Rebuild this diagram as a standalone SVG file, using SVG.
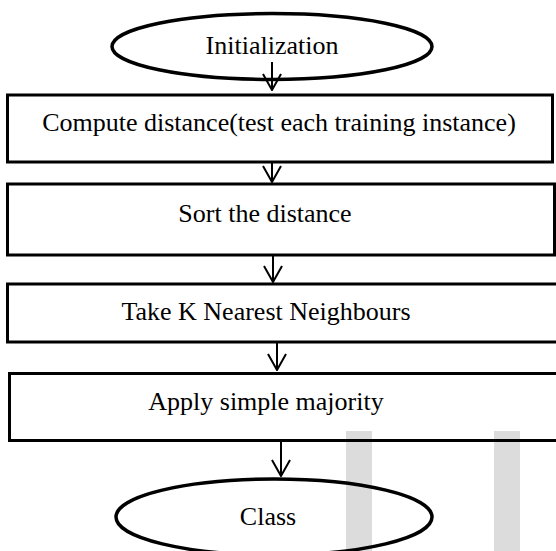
<svg xmlns="http://www.w3.org/2000/svg" width="556" height="551" viewBox="0 0 556 551">
<style>
.box{fill:none;stroke:#000;stroke-width:3}
.ell{fill:none;stroke:#000;stroke-width:3.5}
.lbl{font-family:"Liberation Serif","Times New Roman",serif;font-size:26px;fill:#000;text-anchor:middle}
.con{stroke:#000;stroke-width:2;fill:none}
.bar{fill:#dcdcdc}
</style>
<defs>
<marker id="v" viewBox="0 0 18 20" refX="17" refY="10" markerWidth="18" markerHeight="20" markerUnits="userSpaceOnUse" orient="auto">
<path d="M1,1 L17,10 L1,19" fill="none" stroke="#000" stroke-width="2"/>
</marker>
</defs>
<rect class="bar" x="346" y="431" width="26" height="120"/>
<rect class="bar" x="494" y="431" width="26" height="120"/>
<g id="n-init">
<ellipse class="ell" cx="272" cy="46.5" rx="160" ry="33"/>
<text class="lbl" x="272" y="54">Initialization</text>
</g>
<g id="n-compute">
<rect class="box" x="7.5" y="95" width="545" height="67"/>
<text class="lbl" x="279" y="131">Compute distance(test each training instance)</text>
</g>
<g id="n-sort">
<rect class="box" x="7.5" y="184" width="547" height="71"/>
<text class="lbl" x="265" y="222">Sort the distance</text>
</g>
<g id="n-take">
<rect class="box" x="7.5" y="284" width="550" height="58"/>
<text class="lbl" x="266" y="320">Take K Nearest Neighbours</text>
</g>
<g id="n-apply">
<rect class="box" x="9.5" y="373.5" width="550" height="67"/>
<text class="lbl" x="266" y="410">Apply simple majority</text>
</g>
<g id="n-class">
<ellipse class="ell" cx="274" cy="517" rx="158" ry="38"/>
<text class="lbl" x="268" y="525">Class</text>
</g>
<g id="connectors">
<line class="con" x1="272" y1="62" x2="272" y2="90" marker-end="url(#v)"/>
<line class="con" x1="272" y1="163" x2="272" y2="182" marker-end="url(#v)"/>
<line class="con" x1="273" y1="255" x2="273" y2="282" marker-end="url(#v)"/>
<line class="con" x1="277" y1="342" x2="277" y2="370" marker-end="url(#v)"/>
<line class="con" x1="281" y1="441" x2="281" y2="476" marker-end="url(#v)"/>
</g>
</svg>
